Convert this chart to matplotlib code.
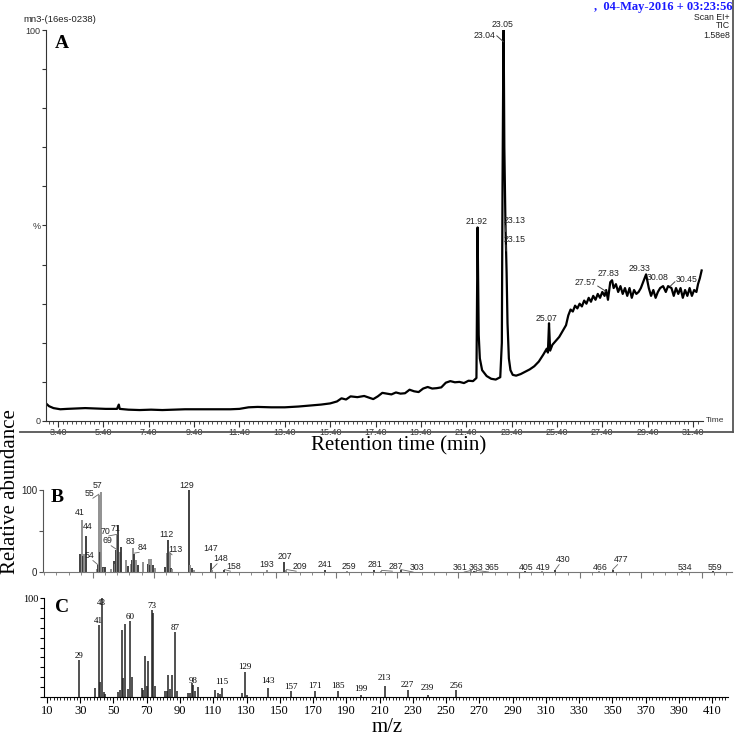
import numpy as np
import matplotlib.pyplot as plt
from matplotlib.lines import Line2D

# ---- panel A : TIC chromatogram (time in min, % of max) ----
tic_time = [2.87, 3.0, 3.2, 3.5, 3.8, 4.2, 4.6, 5.0, 5.5, 6.0, 6.08, 6.12, 6.5, 7.0, 7.5, 8.0, 8.5,
            9.0, 9.5, 10.0, 10.5, 11.0, 11.4, 11.8, 12.2, 12.8, 13.4, 14.0, 14.6, 15.0, 15.4, 15.7,
            15.9, 16.1, 16.3, 16.6, 16.9, 17.1, 17.3, 17.5, 17.7, 17.9, 18.1, 18.3, 18.5, 18.7, 18.9,
            19.1, 19.3, 19.5, 19.7, 19.9, 20.1, 20.3, 20.5, 20.7, 20.9, 21.1, 21.3, 21.5, 21.7, 21.85,
            21.9, 21.95, 22.0, 22.1, 22.3, 22.5, 22.7, 22.9, 22.97, 23.0, 23.04, 23.05, 23.08, 23.13,
            23.15, 23.18, 23.22, 23.28, 23.35, 23.45, 23.6, 23.8, 24.0, 24.2, 24.4, 24.6, 24.8, 24.95,
            25.0, 25.05, 25.1, 25.2, 25.35, 25.5, 25.65, 25.8, 25.9, 26.0, 26.1, 26.2, 26.3, 26.4,
            26.5, 26.6, 26.7, 26.8, 26.9, 27.0, 27.1, 27.2, 27.3, 27.4, 27.5, 27.57, 27.65, 27.75,
            27.83, 27.9, 28.0, 28.1, 28.2, 28.3, 28.4, 28.5, 28.6, 28.7, 28.8, 28.9, 29.0, 29.1, 29.2,
            29.33, 29.45, 29.55, 29.65, 29.75, 29.85, 29.95, 30.08, 30.2, 30.3, 30.45, 30.55, 30.65,
            30.75, 30.85, 30.95, 31.05, 31.15, 31.25, 31.35, 31.45, 31.55, 31.62, 31.7, 31.78]
tic_pct = [4.5, 3.8, 3.3, 3.0, 3.1, 3.2, 3.3, 3.2, 3.1, 3.1, 4.2, 3.1, 2.9, 2.8, 2.9, 2.8, 2.9,
           3.0, 3.0, 3.0, 3.0, 3.0, 3.1, 3.5, 3.6, 3.5, 3.5, 3.7, 4.0, 4.2, 4.5, 5.0,
           5.8, 5.5, 6.3, 6.1, 6.4, 6.0, 5.6, 6.3, 7.2, 7.0, 6.8, 7.3, 7.0, 7.1, 8.0,
           7.6, 7.4, 8.3, 8.7, 8.3, 8.4, 8.6, 9.8, 10.2, 9.9, 10.0, 9.7, 10.3, 10.2, 11.0,
           49.5, 22.0, 16.0, 13.0, 11.5, 10.8, 10.6, 11.2, 20.0, 60.0, 98.0, 100.0, 70.0, 50.0,
           45.0, 38.0, 25.0, 16.0, 13.0, 11.8, 11.6, 12.0, 12.6, 13.2, 14.0, 15.2, 17.0, 18.5,
           17.5, 25.0, 18.0, 19.5, 20.5, 21.5, 23.0, 24.5, 27.0, 28.5, 28.0, 29.5, 28.8, 30.0,
           29.3, 30.8, 30.0, 31.5, 30.5, 32.0, 31.0, 32.5, 31.5, 33.0, 32.0, 33.5, 31.0, 35.5,
           36.0, 34.0, 35.0, 33.0, 34.5, 32.5, 34.0, 32.0, 34.0, 31.5, 33.5, 32.5, 33.0, 34.0, 35.5,
           37.5, 34.0, 32.0, 33.5, 31.5, 33.0, 34.0, 34.5, 33.0, 34.5, 34.0, 32.0, 34.0,
           32.5, 34.0, 31.5, 33.5, 32.0, 34.0, 32.0, 33.5, 33.0, 35.0, 36.5, 38.5]

a_lab = ["23.05", "23.04", "21.92", "23.13", "23.15", "25.07", "27.57", "27.83", "29.33", "30.08", "30.45"]
a_lab_x = [22.98, 22.20, 21.87, 23.55, 23.55, 24.96, 26.64, 27.69, 29.02, 29.86, 31.13]
a_lab_y = [101.5, 98.5, 50.9, 51.4, 46.3, 26.3, 35.3, 37.6, 39.1, 36.6, 36.1]

# ---- panel B : mass spectrum ----
b_mz = [39, 41, 42, 43, 44, 53, 54, 55, 56, 57, 58, 59, 60, 65, 67, 68, 69, 70, 71, 72, 73, 77,
        79, 81, 82, 83, 84, 85, 87, 91, 95, 96, 97, 98, 99, 101, 109, 111, 112, 113, 114, 115,
        129, 130, 131, 133, 147, 148, 158, 193, 207, 209, 241, 259, 281, 287, 303, 361, 363,
        365, 405, 419, 430, 466, 477, 534, 559]
b_int = [22, 64, 20, 22, 44, 4, 8, 94, 24, 98, 6, 5, 6, 4, 13, 10, 27, 45, 57, 24, 30, 15,
         7, 10, 15, 29, 22, 15, 8, 12, 10, 16, 8, 16, 8, 5, 6, 23, 39, 23, 5, 4,
         100, 8, 5, 3, 11, 3, 2, 2, 12, 2, 3, 1, 2, 1, 2, 1, 1,
         1, 1, 1, 2, 1, 2, 1, 1]
b_lab = [41, 44, 54, 55, 57, 69, 70, 71, 83, 84, 112, 113, 129, 147, 148, 158, 193, 207, 209,
         241, 259, 281, 287, 303, 361, 363, 365, 405, 419, 430, 466, 477, 534, 559]
b_lab_x = [39, 46, 47, 47, 54, 62, 60, 69, 81, 91, 110, 118, 127, 147, 155, 166, 193, 208, 220,
           241, 260, 282, 299, 316, 352, 365, 378, 406, 420, 436, 467, 484, 536, 561]
b_lab_y = [72, 55, 20, 96, 105, 38, 50, 53, 37, 30, 46, 27, 106, 29, 16, 7, 9, 19, 7,
           9, 7, 9, 7, 6, 6, 6, 6, 6, 6, 15, 6, 15, 6, 6]

# ---- panel C : library spectrum ----
c_mz = [29, 39, 41, 42, 43, 44, 45, 53, 54, 55, 56, 57, 59, 60, 61, 67, 68, 69, 70, 71, 73, 74,
        75, 81, 82, 83, 84, 85, 87, 88, 95, 96, 97, 98, 99, 101, 111, 113, 114, 115, 127, 129,
        130, 143, 157, 171, 185, 199, 213, 227, 239, 256]
c_int = [37, 9, 73, 15, 100, 5, 3, 5, 7, 68, 19, 74, 8, 77, 20, 9, 7, 41, 11, 36, 88, 85,
         11, 6, 6, 22, 8, 22, 66, 6, 4, 4, 14, 12, 6, 10, 7, 4, 3, 9, 4, 25,
         2, 9, 6, 6, 6, 2, 11, 7, 2, 7]
c_lab = [29, 41, 43, 60, 73, 87, 98, 115, 129, 143, 157, 171, 185, 199, 213, 227, 239, 256]
c_lab_y = [41, 77, 95, 81, 92, 70, 16.5, 15.5, 30, 16.5, 10.5, 11, 11, 8.5, 19, 12, 9, 11]

sans = ['Liberation Sans', 'DejaVu Sans']
serif = ['Liberation Serif', 'DejaVu Serif']

fig = plt.figure(figsize=(7.38, 7.35), dpi=100)

# ================= A =================
axA = fig.add_axes([46/738, 1-421/735, (703-46)/738, (421-30)/735])
axA.plot(tic_time, tic_pct, color='black', lw=1.6)
axA.set_xlim(2.87, 31.84)
axA.set_ylim(0, 100)
for s in ['top', 'right']:
    axA.spines[s].set_visible(False)
axA.spines['left'].set_color('#333')
axA.spines['bottom'].set_color('#333')
axA.set_xticks(np.arange(3.4, 31.5, 2.0))
axA.set_xticklabels(['%.2f' % v for v in np.arange(3.4, 31.5, 2.0)], fontsize=6.5, family=sans, color='#333')
axA.set_xticks(np.arange(3.0, 31.8, 0.2), minor=True)
axA.tick_params(axis='x', which='major', length=4, pad=1, color='#333')
axA.tick_params(axis='x', which='minor', length=2, color='#333')
axA.set_yticks(np.arange(0, 101, 10))
axA.set_yticklabels(['0', '', '', '', '', '%', '', '', '', '', '100'], fontsize=6.5, family=sans, color='#333')
axA.tick_params(axis='y', length=3, pad=1, color='#333')

for lab, x, y in zip(a_lab, a_lab_x, a_lab_y):
    axA.text(x, y, lab, fontsize=6.3, family=sans, color='#222', ha='center', va='center', clip_on=False)
# leader lines
axA.plot([22.75, 23.04], [98.5, 97], color='#444', lw=0.7, clip_on=False)
axA.plot([23.15, 23.13], [50.0, 48.5], color='#444', lw=0.7)
axA.plot([23.15, 23.16], [45.0, 43.5], color='#444', lw=0.7)
axA.plot([27.2, 27.55], [34.5, 33.2], color='#444', lw=0.7)
axA.plot([30.6, 30.4], [35.6, 34.5], color='#444', lw=0.7)

fig.text(715/738, 1-421/735, 'Time', fontsize=6, family=sans, color='#333', ha='center', va='center')
fig.text(23/738, 1-19/735, 'mn3-(16es-0238)', fontsize=6.8, family=sans, color='#222', va='center')
fig.text(62/738, 1-43/735, 'A', fontsize=14, family=serif, weight='bold', ha='center', va='center')
fig.text(732/738, 1-7/735, ',  04-May-2016 + 03:23:56', fontsize=9, family=serif, weight='bold',
         color='#1a1aff', ha='right', va='center')
fig.text(730/738, 1-17/735, 'Scan EI+', fontsize=6.3, family=sans, color='#222', ha='right', va='center')
fig.text(730/738, 1-26/735, 'TIC', fontsize=6.3, family=sans, color='#222', ha='right', va='center')
fig.text(730/738, 1-35/735, '1.58e8', fontsize=6.3, family=sans, color='#222', ha='right', va='center')

# frame round panel A
fig.add_artist(Line2D([20/738, 733/738], [1-432/735, 1-432/735], color='#555', lw=1.3))
fig.add_artist(Line2D([733/738, 733/738], [1-432/735, 1.0], color='#555', lw=1.3))

fig.text(399/738, 1-446/735, 'Retention time (min)', fontsize=15, family=serif, ha='center', va='center')
fig.text(11/738, 1-492/735, 'Relative abundance', fontsize=15, family=serif, rotation=90,
         ha='center', va='center')

# ================= B =================
axB = fig.add_axes([43/738, 1-572/735, (732-43)/738, (572-490)/735])
cols = ['#333' if (i % 2 == 0) else '#888' for i in range(len(b_mz))]
axB.vlines(b_mz, 0, b_int, colors=cols, lw=1.3)
axB.set_xlim(9, 575)
axB.set_ylim(0, 100)
for s in ['top', 'right']:
    axB.spines[s].set_visible(False)
axB.spines['left'].set_color('#555')
axB.spines['bottom'].set_color('#777')
axB.set_yticks([0, 50, 100])
axB.set_yticklabels(['0', '', '100'], fontsize=7, family=sans, color='#222')
axB.tick_params(axis='y', length=3, pad=1, color='#555')
axB.set_xticks(np.arange(50, 575, 50))
axB.set_xticklabels([])
axB.set_xticks(np.arange(10, 575, 10), minor=True)
axB.tick_params(axis='x', which='major', length=4, color='#777')
axB.tick_params(axis='x', which='minor', length=2, color='#777')
b_h = dict(zip(b_mz, b_int))
for m, x, y in zip(b_lab, b_lab_x, b_lab_y):
    axB.text(x, y, str(m), fontsize=6.3, family=sans, color='#222', ha='center', va='center', clip_on=False)
    if abs(x - m) > 4:
        axB.plot([x + (3 if m > x else -3), m], [y - 6, b_h[m] + 1], color='#666', lw=0.6, clip_on=False)
fig.text(57/738, 1-497/735, 'B', fontsize=14, family=serif, weight='bold', ha='center', va='center')

# ================= C =================
axC = fig.add_axes([44/738, 1-697/735, (728-44)/738, (697-598)/735])
axC.vlines(c_mz, 0, c_int, colors='#222', lw=1.1)
axC.set_xlim(8.2, 419.6)
axC.set_ylim(0, 100)
for s in ['top', 'right']:
    axC.spines[s].set_visible(False)
axC.set_xticks(np.arange(10, 411, 20))
axC.set_xticklabels([str(v) for v in range(10, 411, 20)], fontsize=9, family=serif)
axC.set_xticks(np.arange(10, 420, 2), minor=True)
axC.tick_params(axis='x', which='major', length=4, pad=2)
axC.tick_params(axis='x', which='minor', length=2)
axC.set_yticks(np.arange(0, 101, 10))
axC.set_yticklabels(['', '', '', '', '', '', '', '', '', '', '100'], fontsize=7.5, family=serif)
axC.tick_params(axis='y', length=3, pad=1)
for m, y in zip(c_lab, c_lab_y):
    axC.text(m, y, str(m), fontsize=6.5, family=serif, ha='center', va='center', clip_on=False)
fig.text(62/738, 1-607/735, 'C', fontsize=14, family=serif, weight='bold', ha='center', va='center')

fig.text(387/738, 1-727/735, 'm/z', fontsize=15, family=serif, ha='center', va='center')

fig.savefig('out.png', dpi=100)
